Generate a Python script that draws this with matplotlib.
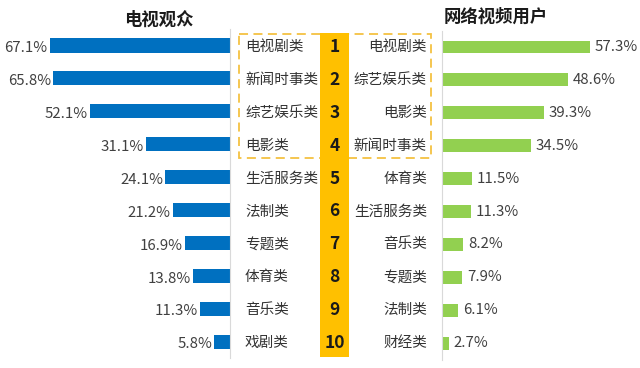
import matplotlib
matplotlib.use('Agg')
import matplotlib.pyplot as plt
from matplotlib.patches import Rectangle

plt.rcParams['font.family'] = ['Noto Sans CJK SC', 'DejaVu Sans']

# ---- data ----
ranks = [str(i) for i in range(1, 11)]
tv_categories = ['电视剧类', '新闻时事类', '综艺娱乐类', '电影类', '生活服务类',
                 '法制类', '专题类', '体育类', '音乐类', '戏剧类']
tv_values = [67.1, 65.8, 52.1, 31.1, 24.1, 21.2, 16.9, 13.8, 11.3, 5.8]
web_categories = ['电视剧类', '综艺娱乐类', '电影类', '新闻时事类', '体育类',
                  '生活服务类', '音乐类', '专题类', '法制类', '财经类']
web_values = [57.3, 48.6, 39.3, 34.5, 11.5, 11.3, 8.2, 7.9, 6.1, 2.7]
titles = ['电视观众', '网络视频用户']

# ---- layout ----
W, H = 640, 368
fig = plt.figure(figsize=(6.4, 3.68), dpi=100)
fig.patch.set_facecolor('white')


def rect(x0, y0, x1, y1):
    return [x0 / W, 1 - y1 / H, (x1 - x0) / W, (y1 - y0) / H]


row0, step = 47, 32.9
top = row0 - step / 2
bot = row0 + step * 9.5
n = len(ranks)
ypos = list(range(n))
LINE = '#d9d9d9'
TXT = '#404040'

# left axes (TV audience)
axl = fig.add_axes(rect(0, top - 1.5, 230, bot - 1.5))
axl.barh(ypos, tv_values, height=0.43, color='#0070C0')
axl.set_xlim(230 / 2.69, 0)
axl.set_ylim(n - 0.5, -0.5)
for s in ['left', 'top', 'bottom']:
    axl.spines[s].set_visible(False)
axl.spines['right'].set_color(LINE)
axl.spines['right'].set_linewidth(0.8)
axl.set_xticks([]); axl.set_yticks([])
axl.patch.set_alpha(0)
for i, v in enumerate(tv_values):
    axl.annotate(f'{v}%', xy=(v, i), xytext=(-1.5, -2), textcoords='offset points',
                 ha='right', va='center', fontsize=10.8, color=TXT)

# right axes (online video users)
axr = fig.add_axes(rect(442, top, 640, bot))
axr.barh(ypos, web_values, height=0.39, color='#92D050')
axr.set_xlim(0, 198 / 2.585)
axr.set_ylim(n - 0.5, -0.5)
for s in ['right', 'top', 'bottom']:
    axr.spines[s].set_visible(False)
axr.spines['left'].set_color(LINE)
axr.spines['left'].set_linewidth(0.8)
axr.set_xticks([]); axr.set_yticks([])
axr.patch.set_alpha(0)
for i, v in enumerate(web_values):
    axr.annotate(f'{v}%', xy=(v, i), xytext=(3.5, 0), textcoords='offset points',
                 ha='left', va='center', fontsize=10.8, color=TXT)

# middle axes (labels + rank column)
axm = fig.add_axes(rect(230, top, 442, bot))
axm.set_xlim(0, 212)
axm.set_ylim(n - 0.5, -0.5)
axm.axis('off')
axm.add_patch(Rectangle((9, -0.395), 192, 3.77, fill=False, edgecolor='#F5C242',
                        linestyle=(0, (5, 3)), linewidth=1.3, zorder=1, clip_on=False))
axm.add_patch(Rectangle((90, -0.425), 29, 9.845, facecolor='#FFC000',
                        edgecolor='none', zorder=2, clip_on=False))
for i in ypos:
    axm.text(104.5, i, ranks[i], ha='center', va='center', fontsize=12.5,
             fontweight='bold', color='#1a1a1a', zorder=3)
    axm.text(15, i, tv_categories[i], ha='left', va='center', fontsize=10.5,
             color='#333333', zorder=3)
    axm.text(197, i, web_categories[i], ha='right', va='center', fontsize=10.5,
             color='#333333', zorder=3)

# titles
fig.text(159 / W, 1 - 20 / H, titles[0], ha='center', va='center', fontsize=12.5,
         fontweight='bold', color='#1a1a1a')
fig.text(496 / W, 1 - 17 / H, titles[1], ha='center', va='center', fontsize=12.5,
         fontweight='bold', color='#1a1a1a')

fig.savefig('out.png', dpi=100, facecolor='white')
